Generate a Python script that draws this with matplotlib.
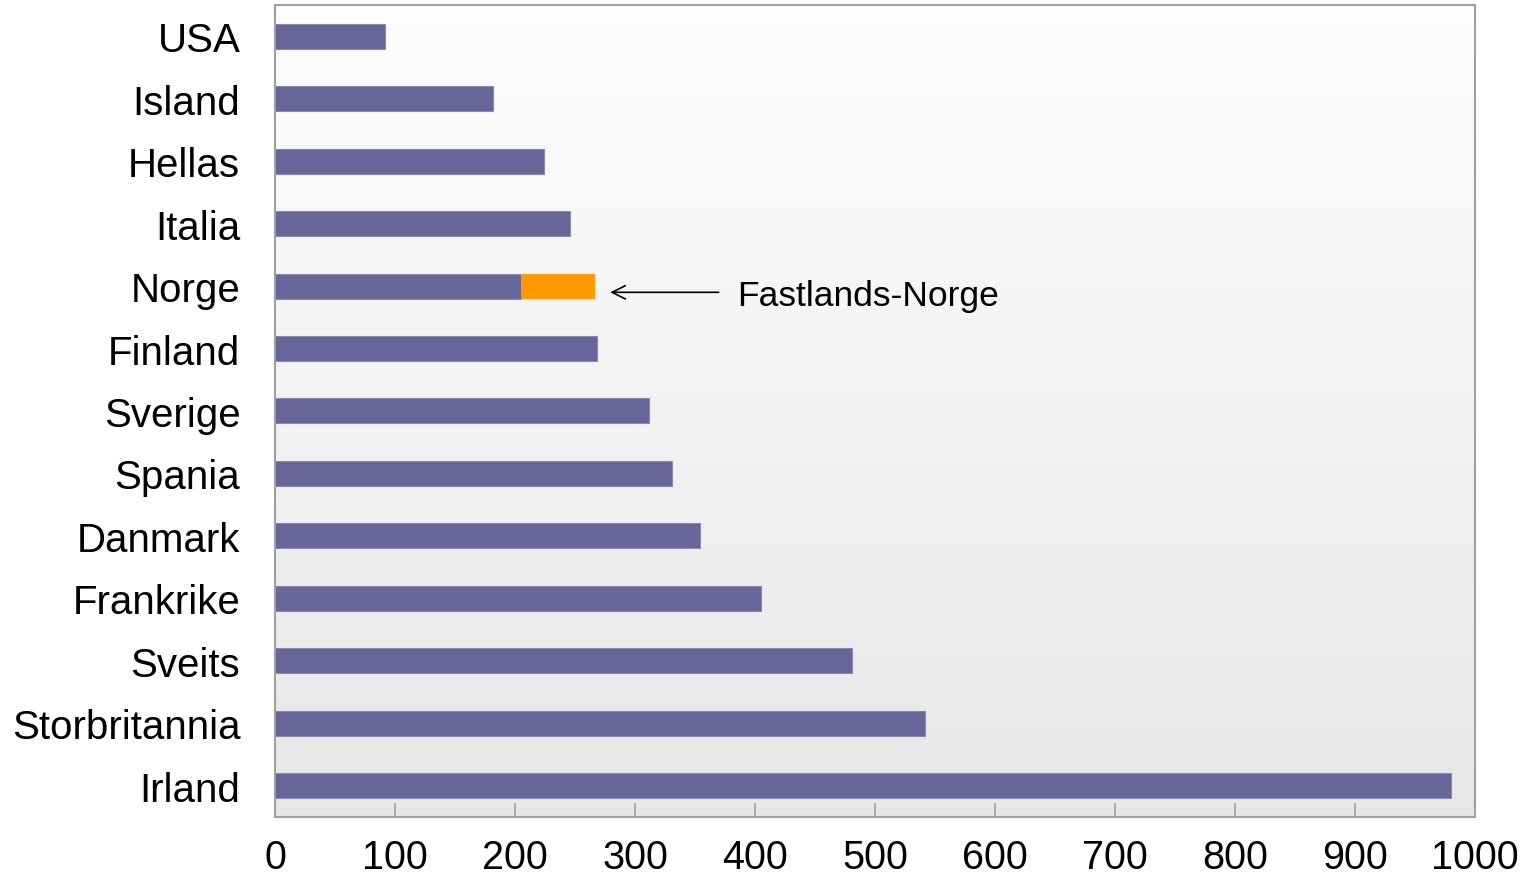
import numpy as np
import matplotlib
matplotlib.use("Agg")
import matplotlib.pyplot as plt

plt.rcParams["font.family"] = ["Liberation Sans", "DejaVu Sans"]

countries = ["USA", "Island", "Hellas", "Italia", "Norge", "Finland", "Sverige",
             "Spania", "Danmark", "Frankrike", "Sveits", "Storbritannia", "Irland"]
values = [92, 182, 224, 246, 205, 268, 312, 331, 354, 405, 481, 542, 980]
# extra segment (orange) on top of the Norge bar: total Norge minus Fastlands-Norge
extra = [0, 0, 0, 0, 62, 0, 0, 0, 0, 0, 0, 0, 0]
xticks = [0, 100, 200, 300, 400, 500, 600, 700, 800, 900, 1000]

fig = plt.figure(figsize=(15.33, 8.79), dpi=100)
ax = fig.add_axes([0.1794, 0.0694, 0.7828, 0.9238])

# vertical gradient background
grad = np.linspace(0.99, 0.905, 256).reshape(-1, 1)
ax.imshow(grad, cmap="gray", vmin=0, vmax=1, aspect="auto",
          extent=[0, 1, 0, 1], transform=ax.transAxes, zorder=0)

y = np.arange(len(countries))
ax.barh(y, values, height=0.4, color="#666699", edgecolor="#8a8ab0",
        linewidth=0.8, zorder=2)
ax.barh(y, extra, left=values, height=0.4, color="#FF9900",
        edgecolor="none", zorder=2)

ax.set_xlim(0, 1000)
ax.set_ylim(len(countries) - 0.5, -0.5)
ax.set_yticks(y)
ax.set_yticklabels(countries, fontsize=29)
ax.set_xticks(xticks)
ax.set_xticklabels([str(t) for t in xticks], fontsize=28.5)
ax.tick_params(axis="y", length=0, pad=25)
ax.tick_params(axis="x", direction="in", length=10, width=1.2,
               color="#a0a0a0", pad=15)
for s in ax.spines.values():
    s.set_color("#a0a0a0")
    s.set_linewidth(1.5)

norge = countries.index("Norge")
ax.annotate("", xy=(277, norge + 0.1), xytext=(372, norge + 0.1),
            arrowprops=dict(arrowstyle="->", color="black", lw=1.2,
                            mutation_scale=24), zorder=3)
ax.text(385, norge + 0.15, "Fastlands-Norge", fontsize=25.5, va="center",
        ha="left", zorder=3)

fig.savefig("out.png", dpi=100)
